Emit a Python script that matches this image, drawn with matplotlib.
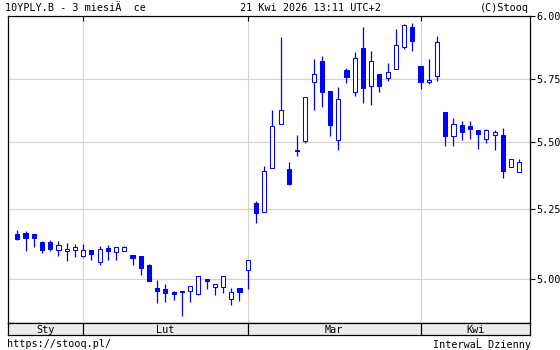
import numpy as np
import matplotlib.pyplot as plt

plt.rcParams['font.family'] = ['DejaVu Sans Mono']

# daily candles, 10YPLY.B, 21 Jan - 21 Apr 2026
opens = [5.162, 5.165, 5.162, 5.133, 5.133, 5.106, 5.100, 5.106, 5.084, 5.105,
         5.063, 5.112, 5.099, 5.102, 5.087, 5.083, 5.051, 4.969, 4.964, 4.955,
         4.958, 4.959, 4.948, 5.000, 4.971, 4.974, 4.929, 4.968, 5.032, 5.274,
         5.240, 5.403, 5.571, 5.399, 5.470, 5.506, 5.738, 5.821, 5.704, 5.508,
         5.786, 5.698, 5.872, 5.722, 5.770, 5.754, 5.789, 5.876, 5.955, 5.801,
         5.738, 5.762, 5.620, 5.526, 5.567, 5.565, 5.549, 5.513, 5.530, 5.529,
         5.407, 5.388]
highs = [5.176, 5.172, 5.162, 5.138, 5.140, 5.137, 5.131, 5.126, 5.126, 5.105,
         5.119, 5.122, 5.115, 5.119, 5.087, 5.083, 5.055, 4.998, 4.983, 4.958,
         4.958, 4.975, 5.011, 5.000, 4.982, 5.011, 4.969, 4.968, 5.068, 5.281,
         5.413, 5.628, 5.918, 5.426, 5.529, 5.679, 5.830, 5.842, 5.704, 5.718,
         5.793, 5.858, 5.957, 5.862, 5.770, 5.814, 5.949, 5.967, 5.972, 5.801,
         5.830, 5.922, 5.620, 5.596, 5.585, 5.585, 5.549, 5.552, 5.548, 5.557,
         5.437, 5.438]
lows = [5.140, 5.101, 5.116, 5.094, 5.102, 5.083, 5.065, 5.080, 5.080, 5.069,
        5.051, 5.069, 5.069, 5.102, 5.051, 5.015, 4.995, 4.915, 4.919, 4.926,
        4.869, 4.919, 4.944, 4.965, 4.944, 4.951, 4.908, 4.923, 4.965, 5.201,
        5.240, 5.403, 5.571, 5.342, 5.450, 5.499, 5.627, 5.640, 5.526, 5.470,
        5.734, 5.685, 5.657, 5.649, 5.701, 5.742, 5.789, 5.868, 5.863, 5.710,
        5.730, 5.745, 5.487, 5.487, 5.510, 5.514, 5.476, 5.499, 5.472, 5.368,
        5.407, 5.388]
closes = [5.144, 5.149, 5.149, 5.106, 5.109, 5.121, 5.108, 5.114, 5.104, 5.091,
          5.108, 5.102, 5.115, 5.115, 5.077, 5.040, 4.995, 4.958, 4.952, 4.949,
          4.955, 4.975, 5.011, 4.995, 4.982, 5.011, 4.955, 4.956, 5.068, 5.237,
          5.393, 5.565, 5.628, 5.346, 5.466, 5.679, 5.771, 5.701, 5.570, 5.671,
          5.759, 5.833, 5.717, 5.821, 5.722, 5.778, 5.884, 5.964, 5.902, 5.741,
          5.747, 5.896, 5.526, 5.573, 5.540, 5.552, 5.534, 5.548, 5.540, 5.394,
          5.437, 5.425]

month_names = ["Sty", "Lut", "Mar", "Kwi"]
month_days = [8, 20, 21, 13]
yticks = [5.00, 5.25, 5.50, 5.75, 6.00]

# stooq's price axis isn't exactly linear: gridline levels -> pixel rows
scale_vals = np.array([4.0, 5.00, 5.25, 5.50, 5.75, 6.00, 7.0])
scale_rows = -np.array([559.3, 279.3, 209.3, 142.3, 79.3, 16.0, -237.2])


def fwd(v):
    return np.interp(v, scale_vals, scale_rows)


def inv(t):
    return np.interp(t, scale_rows, scale_vals)


blue = "#0000ff"
fs = 7.3
o = np.array(opens)
c = np.array(closes)
x = np.arange(len(o))
up = c >= o

fig = plt.figure(figsize=(5.6, 3.5), dpi=100)
W, H = 560, 350
left, right, top, bottom = 8, 530, 15.5, 323.3
ax = fig.add_axes([left / W, 1 - bottom / H, (right - left) / W, (bottom - top) / H])
ax.set_yscale("function", functions=(fwd, inv))
ax.set_xlim(-1.13, 62.3)
ax.set_ylim(4.843, 6.002)

# wicks then bodies (hollow = up, filled = down)
ax.vlines(x, lows, highs, color=blue, lw=0.9, zorder=2)
ax.bar(x, np.abs(c - o), bottom=np.minimum(o, c), width=0.5,
       color=np.where(up, "white", blue), edgecolor=blue, linewidth=0.75, zorder=3)

bounds = np.cumsum(month_days)[:-1]
ax.set_xticks(bounds)
ax.set_yticks(yticks)
ax.set_yticklabels([f"{v:.2f}" for v in yticks])
ax.grid(True, color="#d3d3d3", lw=0.8)
ax.set_axisbelow(True)
ax.tick_params(axis="x", bottom=False, top=True, direction="in", length=3.5,
               labelbottom=False, color="black")
ax.tick_params(axis="y", left=False, right=True, labelleft=False, labelright=True,
               direction="out", length=3.5, labelsize=fs, pad=0.8)
for s in ax.spines.values():
    s.set_linewidth(0.9)

# month band under the plot
bax = fig.add_axes([left / W, 1 - 335 / H, (right - left) / W, (335 - bottom) / H])
bax.set_xlim(ax.get_xlim())
bax.set_ylim(0, 1)
bax.set_facecolor("#ececec")
bax.set_xticks([])
bax.set_yticks([])
for s in bax.spines.values():
    s.set_linewidth(0.9)
for b in bounds:
    bax.axvline(b, color="black", lw=0.9)
edges = [ax.get_xlim()[0]] + list(bounds) + [ax.get_xlim()[1]]
for i, name in enumerate(month_names):
    bax.text((edges[i] + edges[i + 1]) / 2, 0.45, name, ha="center", va="center", fontsize=fs)

fig.text(5 / W, 1 - 8 / H, "10YPLY.B - 3 miesiÄ  ce", ha="left", va="center", fontsize=fs)
fig.text(239.5 / W, 1 - 8 / H, "21 Kwi 2026 13:11 UTC+2", ha="left", va="center", fontsize=fs)
fig.text(529 / W, 1 - 8 / H, "(C)Stooq", ha="right", va="center", fontsize=fs)
fig.text(7 / W, 1 - 344 / H, "https://stooq.pl/", ha="left", va="center", fontsize=fs)
fig.text(531 / W, 1 - 344 / H, "InterwaĹ Dzienny", ha="right", va="center", fontsize=fs)

fig.savefig("out.png", dpi=100)
